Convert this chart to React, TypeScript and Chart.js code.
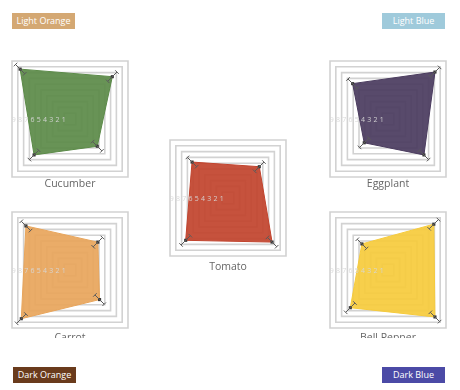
import React, { useEffect, useRef } from 'react';
import { Chart, registerables } from 'chart.js';

Chart.register(...registerables);

// Axis order: top-left, top-right, bottom-right, bottom-left
const axisLabels = ['A', 'B', 'C', 'D'];
const cucumberValues = [8.6, 7.3, 4.7, 6.2];
const eggplantValues = [6.1, 8.1, 6.2, 4.1];
const tomatoValues = [6.2, 5.4, 7.6, 7.3];
const carrotValues = [7.6, 4.8, 5.1, 8.4];
const bellPepperValues = [4.5, 7.9, 8.1, 6.5];
const tickLabels = ['1', '2', '3', '4', '5', '6', '7', '8', '9'];
const scaleMax = 10;
const errorSpan = 0.8;

const SIZE = 164;
const HALF = SIZE / 2;

const tickLabelPlugin = {
  id: 'hTicks',
  afterDatasetsDraw(chart: any) {
    const scale = chart.scales.r;
    const ctx = chart.ctx;
    ctx.save();
    ctx.font = '7px "Open Sans", sans-serif';
    ctx.fillStyle = 'rgba(215,215,215,0.95)';
    ctx.textAlign = 'center';
    ctx.textBaseline = 'middle';
    tickLabels.forEach((t) => {
      const v = Number(t);
      const d = (scale.getDistanceFromCenterForValue(v) / Math.SQRT2) * 1.08;
      ctx.fillText(t, scale.xCenter - d, scale.yCenter + 0.5);
    });
    ctx.restore();
  },
};

const whiskerPlugin = {
  id: 'whiskers',
  afterDatasetsDraw(chart: any) {
    const scale = chart.scales.r;
    const ctx = chart.ctx;
    const data = chart.data.datasets[0].data as number[];
    ctx.save();
    ctx.strokeStyle = '#5a5a5a';
    ctx.lineWidth = 1;
    data.forEach((v, i) => {
      const a = scale.getPointPositionForValue(i, v - errorSpan);
      const b = scale.getPointPositionForValue(i, v + errorSpan);
      const dx = b.x - a.x;
      const dy = b.y - a.y;
      const len = Math.hypot(dx, dy) || 1;
      const px = (-dy / len) * 2.5;
      const py = (dx / len) * 2.5;
      ctx.beginPath();
      ctx.moveTo(a.x, a.y);
      ctx.lineTo(b.x, b.y);
      ctx.moveTo(a.x - px, a.y - py);
      ctx.lineTo(a.x + px, a.y + py);
      ctx.moveTo(b.x - px, b.y - py);
      ctx.lineTo(b.x + px, b.y + py);
      ctx.stroke();
    });
    ctx.restore();
  },
};

function Radar(props: { name: string; values: number[]; color: string; fill: string; cx: number; cy: number; labelTop: number; clip?: number }) {
  const ref = useRef<HTMLCanvasElement>(null);
  useEffect(() => {
    if (!ref.current) return;
    const chart = new Chart(ref.current, {
      type: 'radar',
      data: {
        labels: axisLabels,
        datasets: [
          {
            label: props.name,
            data: props.values,
            backgroundColor: props.fill,
            borderColor: props.color,
            borderWidth: 1,
            pointRadius: 2.2,
            pointBackgroundColor: '#3b3b3b',
            pointBorderColor: '#3b3b3b',
            pointBorderWidth: 0,
            pointStyle: 'rect',
          },
        ],
      },
      options: {
        responsive: false,
        animation: false,
        layout: { padding: 0 },
        plugins: { legend: { display: false }, tooltip: { enabled: false }, title: { display: false } },
        elements: { line: { tension: 0 } },
        scales: {
          r: {
            min: 0,
            max: scaleMax,
            startAngle: -45,
            ticks: { display: false, stepSize: 1 },
            grid: { color: '#d2d2d2', lineWidth: 1.6 },
            angleLines: { display: false },
            pointLabels: { display: false },
          },
        },
      },
      plugins: [tickLabelPlugin, whiskerPlugin],
    });
    return () => chart.destroy();
  }, []);
  return (
    <>
      <canvas
        ref={ref}
        width={SIZE}
        height={SIZE}
        style={{ position: 'absolute', left: props.cx - HALF, top: props.cy - HALF, width: SIZE, height: SIZE }}
      />
      <div
        style={{
          position: 'absolute',
          left: props.cx - 60,
          width: 120,
          top: props.labelTop,
          height: props.clip ?? 16,
          overflow: 'hidden',
          textAlign: 'center',
          font: '10.5px "Open Sans", sans-serif',
          lineHeight: '14px',
          color: '#666',
        }}
      >
        {props.name}
      </div>
    </>
  );
}

function Tag(props: { text: string; bg: string; left: number; top: number }) {
  return (
    <div
      style={{
        position: 'absolute',
        left: props.left,
        top: props.top,
        width: 63,
        height: 16,
        background: props.bg,
        color: '#fff',
        font: '9px "Open Sans", sans-serif',
        lineHeight: '16px',
        textAlign: 'center',
      }}
    >
      {props.text}
    </div>
  );
}

export default function App() {
  return (
    <div style={{ position: 'absolute', left: 0, top: 0, width: 460, height: 390, overflow: 'hidden', background: '#fff' }}>
      <Tag text="Light Orange" bg="#d4a873" left={12} top={13} />
      <Tag text="Light Blue" bg="#9fcadb" left={382} top={13} />
      <Tag text="Dark Orange" bg="#6a3b1c" left={13} top={367} />
      <Tag text="Dark Blue" bg="#4b4aa6" left={382} top={367} />
      <Radar name="Cucumber" values={cucumberValues} color="#5b8a48" fill="rgba(91,138,72,0.92)" cx={70} cy={118.5} labelTop={176} />
      <Radar name="Eggplant" values={eggplantValues} color="#4a3b5e" fill="rgba(74,59,94,0.92)" cx={388} cy={118.5} labelTop={176} />
      <Radar name="Tomato" values={tomatoValues} color="#c1432d" fill="rgba(193,67,45,0.92)" cx={228} cy={197.5} labelTop={259} />
      <Radar name="Carrot" values={carrotValues} color="#e8a55b" fill="rgba(232,165,91,0.92)" cx={70} cy={269.5} labelTop={330} clip={8} />
      <Radar name="Bell Pepper" values={bellPepperValues} color="#f6cb3c" fill="rgba(246,203,60,0.92)" cx={388} cy={269.5} labelTop={330} clip={8} />
    </div>
  );
}
